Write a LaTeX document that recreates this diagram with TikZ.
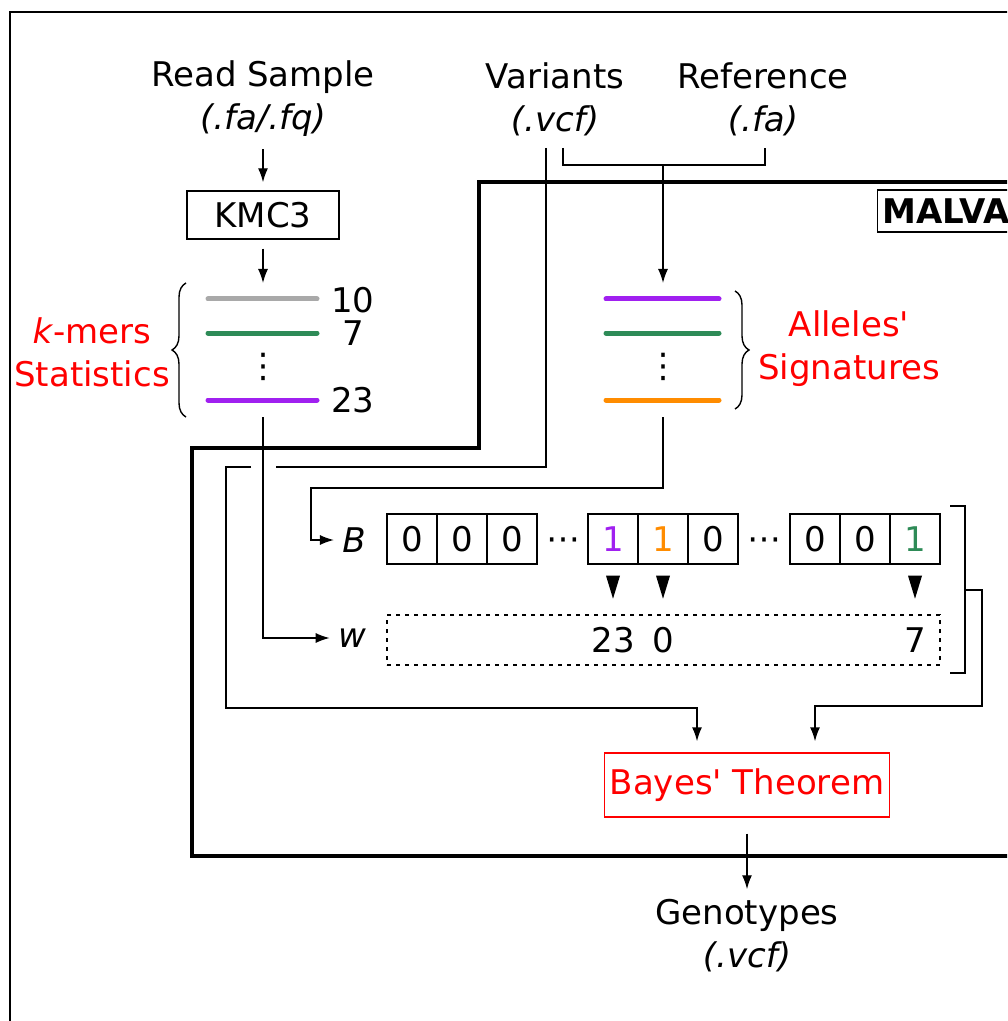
\documentclass[tikz,border=0pt]{standalone}
\usepackage{fontspec}
\setmainfont{DejaVu Sans}[Ligatures=TeXOff]
\usepackage{xcolor}
\definecolor{malvagray}{HTML}{A9A9A9}
\definecolor{malvagreen}{HTML}{2E8B57}
\definecolor{malvapurple}{HTML}{A020F0}
\definecolor{malvaorange}{HTML}{FF8C00}
\definecolor{malvared}{HTML}{FF0000}
\usetikzlibrary{arrows.meta, positioning, decorations.pathreplacing, calc}

\begin{document}
\begin{tikzpicture}[
  x=0.5pt, y=-0.5pt,
  font=\fontsize{17}{21.5}\selectfont,
  txt/.style={align=center, inner sep=0pt},
  box/.style={rectangle, draw, line width=0.7pt, inner sep=0pt},
  cell/.style={rectangle, draw, line width=0.7pt,
    minimum width=25pt, minimum height=25pt, inner sep=0pt},
  conn/.style={-{Latex[length=7pt,width=5pt]}, line width=0.7pt},
  wire/.style={line width=0.7pt},
  kmer/.style={line width=2.5pt, line cap=round},
  frame/.style={line width=1.6pt},
  curly/.style={decorate, decoration={brace, amplitude=7pt}, line width=0.7pt}
]
\useasboundingbox (0,0) rectangle (1007,1021);
\clip (0,0) rectangle (1007,1021);

% outer frame
\draw[line width=1pt] (10,12) rectangle (1040,1060);

% inputs
\node[txt] (read) at (263,99) {Read Sample\\\textit{(.fa/.fq)}};
\node[txt] (variants) at (555,99) {Variants\\\textit{(.vcf)}};
\node[txt] (reference) at (763,99) {Reference\\\textit{(.fa)}};

\node[box, minimum width=76pt, minimum height=24pt] (kmc) at (263,215) {KMC3};
\coordinate (kmtop) at (263,283);
\draw[conn, shorten <=6pt, shorten >=4pt] (read) -- (kmc);
\draw[conn, shorten <=4.5pt] (kmc) -- (kmtop);

% MALVA frame
\draw[frame] (1040,182) -| (479,448) -| (192,856) -- (1040,856);
\node[box, anchor=west, minimum height=21pt, inner sep=2.5pt,
  font=\fontsize{17}{20}\selectfont\bfseries] (malva) at (877,211) {MALVA};

% k-mers
\draw[kmer, malvagray] (208,299) -- (317,299);
\draw[kmer, malvagreen] (208,333) -- (317,333);
\node (kdots) at (263,367) {⋮};
\draw[kmer, malvapurple] (208,400) -- (317,400);
\node[txt] (cnt10) at (353,300) {10};
\node[txt] (cnt7) at (353,333) {7};
\node[txt] (cnt23) at (353,400) {23};
\draw[curly] (186,417) -- (186,283);
\node[txt, malvared] (kstats) at (92,352) {\textit{k}-mers\\Statistics};

% signatures
\coordinate (sigtop) at (663,283);
\draw[kmer, malvapurple] (606,299) -- (719,299);
\draw[kmer, malvagreen] (606,333) -- (719,333);
\node (sdots) at (663,367) {⋮};
\draw[kmer, malvaorange] (606,400) -- (719,400);
\draw[curly] (735,291) -- (735,409);
\node[txt, malvared] (sigs) at (849,349) {Alleles'\\Signatures};

% variants and reference
\coordinate (vartap) at (546,148);
\coordinate (vartap2) at (563,148);
\coordinate (reftap) at (765,148);
\coordinate (refjoin) at (663,165);
\draw[wire] (vartap2) |- (refjoin) -| (reftap);
\draw[conn] (refjoin) -- (sigtop);

% B vector
\foreach \xc/\v/\c [count=\i] in {412/0/black, 462/0/black, 512/0/black,
    613/1/malvapurple, 663/1/malvaorange, 713/0/black,
    815/0/black, 865/0/black, 915/1/malvagreen}
  \node[cell, text=\c] (b\i) at (\xc,539) {\v};
\node (bdots1) at (563,544) {⋯};
\node (bdots2) at (764,544) {⋯};
\node[inner sep=4pt] (Blab) at (354,540) {\textit{B}};

% w vector
\node[rectangle, draw, line width=0.7pt, dash pattern=on 2pt off 2.5pt,
  minimum width=276.5pt, minimum height=25pt] (wbox) at (663.5,640) {};
\node[inner sep=4pt] (wlab) at (352,638) {\textit{w}};
\node (w4) at (b4 |- wbox) {23};
\node (w5) at (b5 |- wbox) {0};
\node (w9) at (b9 |- wbox) {7};
\foreach \c in {b4,b5,b9}
  \fill ([yshift=-5.5pt]\c.south) ++(-7,0) -- ++(14,0) -- ++(-7,23) -- cycle;

% links into B and w
\coordinate (kmbot) at (263,417);
\coordinate (sigbot) at (663,417);
\coordinate (sigbend) at (311,488);
\draw[conn] (sigbot) |- (sigbend) |- (Blab.west);
\draw[conn] (kmbot) |- (wlab.west);

% bayes
\node[box, draw=malvared, text=malvared, minimum width=142.5pt,
  minimum height=32pt] (bayes) at (747,785) {Bayes' Theorem};

\coordinate (vargap) at (276,467);
\coordinate (vargap2) at (251,467);
\coordinate (varbend) at (226,708);
\draw[wire] (vartap) |- (vargap);
\draw[conn] (vargap2) -| (varbend) -| ([xshift=-25pt,yshift=5.5pt]bayes.north);

\coordinate (brtop) at (950,506);
\coordinate (brbot) at (950,673);
\coordinate (brmid) at (965,590);
\draw[wire] (brtop) -| (965,673) -- (brbot);
\draw[conn] (brmid) -| (982,706) -| ([xshift=34pt,yshift=5.5pt]bayes.north);

% output
\node[txt] (geno) at (747,936) {Genotypes\\\textit{(.vcf)}};
\draw[conn, shorten <=8pt, shorten >=5pt] (bayes) -- (geno);
\end{tikzpicture}
\end{document}
